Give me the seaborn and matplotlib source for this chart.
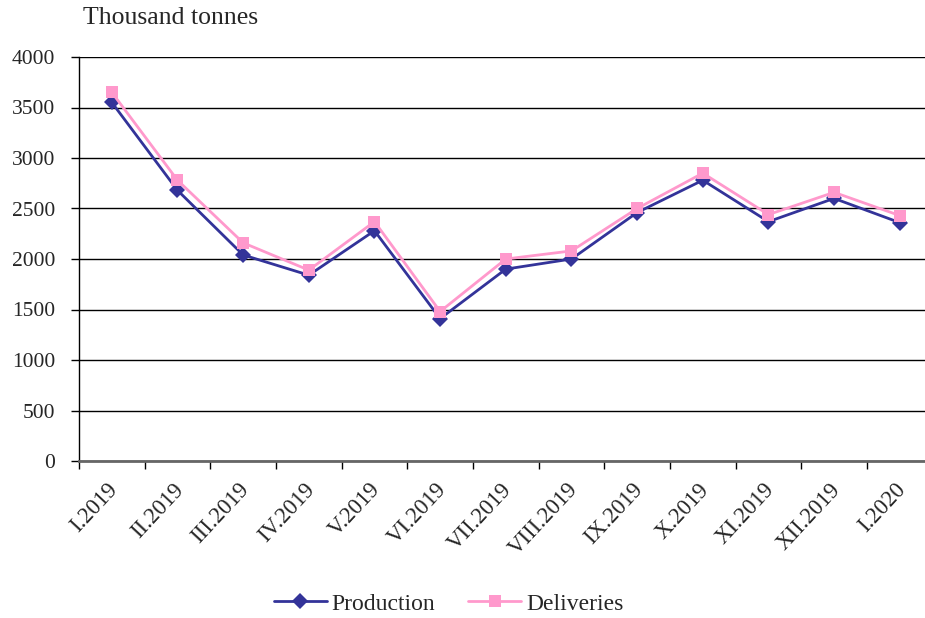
import matplotlib
matplotlib.use("Agg")
import matplotlib.pyplot as plt
import matplotlib.transforms as mtransforms
import seaborn as sns
import pandas as pd
import numpy as np
from matplotlib.ticker import FixedLocator
from matplotlib.lines import Line2D

months = ["I.2019", "II.2019", "III.2019", "IV.2019", "V.2019", "VI.2019", "VII.2019",
          "VIII.2019", "IX.2019", "X.2019", "XI.2019", "XII.2019", "I.2020"]
production = [3550, 2680, 2040, 1840, 2280, 1410, 1900, 2000, 2460, 2780, 2370, 2600, 2360]
deliveries = [3650, 2780, 2160, 1890, 2370, 1480, 2000, 2080, 2500, 2850, 2440, 2660, 2430]

df = pd.DataFrame({"month": months * 2,
                   "value": production + deliveries,
                   "series": ["Production"] * len(months) + ["Deliveries"] * len(months)})

sns.set_style("white")
plt.rcParams["font.family"] = ["Liberation Serif", "DejaVu Serif"]

fig = plt.figure(figsize=(9.25, 6.18), dpi=100)
ax = fig.add_axes([79 / 925, 157 / 618, (932.6 - 79) / 925, 404 / 618])

palette = {"Production": "#333399", "Deliveries": "#FF99CC"}
sns.lineplot(data=df, x="month", y="value", hue="series", style="series",
             markers={"Production": "D", "Deliveries": "s"},
             dashes=False, palette=palette, sort=False, ax=ax,
             linewidth=2, markersize=8, markeredgewidth=0, legend=False)

ax.set_xlim(-0.5, len(months) - 0.5)
ax.set_ylim(0, 4000)
ax.set_yticks(np.arange(0, 4001, 500))
ax.grid(axis="y", color="black", linewidth=1)
ax.set_axisbelow(True)

ax.set_xticks(range(len(months)))
ax.set_xticklabels(months, rotation=47, ha="right", rotation_mode="anchor", fontsize=16.5)
ax.tick_params(axis="x", which="major", length=0, pad=13)
offset = mtransforms.ScaledTranslation(-5 / 100, 0, fig.dpi_scale_trans)
for lbl in ax.get_xticklabels():
    lbl.set_transform(lbl.get_transform() + offset)
ax.xaxis.set_minor_locator(FixedLocator(np.arange(-0.5, len(months), 1.0)))
ax.tick_params(axis="x", which="minor", length=6, width=1, color="black", direction="out", bottom=True)
ax.tick_params(axis="y", length=6, width=1, color="black", direction="out", labelsize=15.5,
               left=True, pad=11)

for s in ["top", "right"]:
    ax.spines[s].set_visible(False)
ax.spines["left"].set_color("black")
ax.spines["left"].set_linewidth(1)
ax.spines["bottom"].set_color("#666666")
ax.spines["bottom"].set_linewidth(2)
ax.set_xlabel("")
ax.set_ylabel("")

fig.text(83 / 925, 1 - 18 / 618, "Thousand tonnes", fontsize=18.5, va="center", ha="left")

handles = [Line2D([], [], color="#333399", marker="D", markersize=8, linewidth=2, markeredgewidth=0),
           Line2D([], [], color="#FF99CC", marker="s", markersize=8, linewidth=2, markeredgewidth=0)]
fig.legend(handles, ["Production", "Deliveries"], loc="center", bbox_to_anchor=(0.485, 0.023),
           ncol=2, frameon=False, fontsize=17, handlelength=2.25, handletextpad=0.2,
           columnspacing=1.4, borderpad=0.1)

fig.savefig("out.png", dpi=100)
